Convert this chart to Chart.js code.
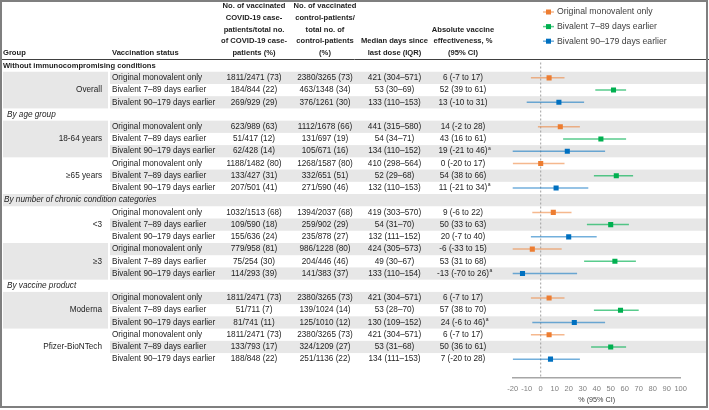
<!DOCTYPE html>
<html>
<head>
<meta charset="utf-8">
<script src="https://cdn.jsdelivr.net/npm/chart.js@4.4.1/dist/chart.umd.min.js"></script>
<style>
  html, body { margin: 0; padding: 0; background: #fff; }
  canvas { display: block; }
</style>
</head>
<body>
<canvas id="chart" width="709" height="410"></canvas>
<script>
// table content
const sections = ['Without immunocompromising conditions', 'By age group', 'By number of chronic condition categories', 'By vaccine product'];
const groups = ['Overall', '18-64 years', '≥65 years', '<3', '≥3', 'Moderna', 'Pfizer-BioNTech'];
const groupSection = [0, 1, 1, 2, 2, 3, 3];
const statuses = ['Original monovalent only', 'Bivalent 7–89 days earlier', 'Bivalent 90–179 days earlier'];

const cases = [
  '1811/2471 (73)', '184/844 (22)', '269/929 (29)',
  '623/989 (63)', '51/417 (12)', '62/428 (14)',
  '1188/1482 (80)', '133/427 (31)', '207/501 (41)',
  '1032/1513 (68)', '109/590 (18)', '155/636 (24)',
  '779/958 (81)', '75/254 (30)', '114/293 (39)',
  '1811/2471 (73)', '51/711 (7)', '81/741 (11)',
  '1811/2471 (73)', '133/793 (17)', '188/848 (22)'
];
const controls = [
  '2380/3265 (73)', '463/1348 (34)', '376/1261 (30)',
  '1112/1678 (66)', '131/697 (19)', '105/671 (16)',
  '1268/1587 (80)', '332/651 (51)', '271/590 (46)',
  '1394/2037 (68)', '259/902 (29)', '235/878 (27)',
  '986/1228 (80)', '204/446 (46)', '141/383 (37)',
  '2380/3265 (73)', '139/1024 (14)', '125/1010 (12)',
  '2380/3265 (73)', '324/1209 (27)', '251/1136 (22)'
];
const medianDays = [
  '421 (304–571)', '53 (30–69)', '133 (110–153)',
  '441 (315–580)', '54 (34–71)', '134 (110–152)',
  '410 (298–564)', '52 (29–68)', '132 (110–153)',
  '419 (303–570)', '54 (31–70)', '132 (111–152)',
  '424 (305–573)', '49 (30–67)', '133 (110–154)',
  '421 (304–571)', '53 (28–70)', '130 (109–152)',
  '421 (304–571)', '53 (31–68)', '134 (111–153)'
];
// vaccine effectiveness, %, with 95% CI
const ve     = [6, 52, 13, 14, 43, 19, 0, 54, 11, 9, 50, 20, -6, 53, -13, 6, 57, 24, 6, 50, 7];
const veLow  = [-7, 39, -10, -2, 16, -21, -20, 38, -21, -6, 33, -7, -33, 31, -70, -7, 38, -6, -7, 36, -20];
const veHigh = [17, 61, 31, 28, 61, 46, 17, 66, 34, 22, 63, 40, 15, 68, 26, 17, 70, 46, 17, 61, 28];
const footnoteRows = [5, 8, 14, 17];
const xTicks = [-20, 100, 10];

const F = '"Liberation Sans", Arial, sans-serif';
const colors = ['#ED7D31', '#00B050', '#0070C0'];
const lineColors = ['rgba(237,125,49,0.55)', 'rgba(0,176,80,0.65)', 'rgba(0,112,192,0.55)'];

// work out which plot row every line sits on
const rowOf = [], sectionRow = [], groupRow = [];
let r = 0, cur = -1;
groups.forEach((g, gi) => {
  if (groupSection[gi] !== cur) { cur = groupSection[gi]; sectionRow.push(r++); }
  groupRow.push(r);
  for (let s = 0; s < 3; s++) rowOf.push(r++);
});

const datasets = [];
statuses.forEach((label, s) => {
  const pts = [], ci = [];
  ve.forEach((v, i) => {
    if (i % 3 !== s) return;
    pts.push({ x: v, y: rowOf[i] });
    ci.push({ x: veLow[i], y: rowOf[i] }, { x: veHigh[i], y: rowOf[i] }, { x: null, y: null });
  });
  datasets.push({ type: 'line', label: label + ' CI', data: ci, borderColor: lineColors[s], borderWidth: 1.5,
    pointRadius: 0, spanGaps: false, order: 2 });
  datasets.push({ type: 'scatter', label: label, data: pts, backgroundColor: colors[s], borderColor: colors[s],
    pointStyle: 'rect', pointRadius: 3.6, borderWidth: 0, order: 1 });
});

const tablePlugin = {
  id: 'table',
  beforeDraw(chart) {
    const { ctx, chartArea: a, scales: { x, y } } = chart;
    const h = y.getPixelForValue(1) - y.getPixelForValue(0);
    const rowY = k => y.getPixelForValue(k);
    ctx.save();
    ctx.fillStyle = '#fff';
    ctx.fillRect(0, 0, chart.width, chart.height);

    // grey bands on odd rows
    ctx.fillStyle = '#E7E7E7';
    for (let k = 1; k < rowOf.length + sectionRow.length; k += 2) {
      if (sectionRow.includes(k)) ctx.fillRect(3, rowY(k) - h / 2, 703, h);
      else ctx.fillRect(110, rowY(k) - h / 2, 596, h);
    }
    groupRow.forEach(k => { if (k % 2 === 1) ctx.fillRect(3, rowY(k) - h / 2, 105, 3 * h); });

    // reference line at 0
    const zx = x.getPixelForValue(0);
    ctx.strokeStyle = '#A0A0A0';
    ctx.lineWidth = 1;
    ctx.setLineDash([2, 2]);
    ctx.beginPath();
    ctx.moveTo(zx, a.top + 3);
    ctx.lineTo(zx, a.bottom);
    ctx.stroke();
    ctx.setLineDash([]);

    // header
    ctx.fillStyle = '#1e1e1e';
    ctx.textBaseline = 'middle';
    ctx.font = 'bold 7.6px ' + F;
    const hy = k => 6 + 11.8 * k;
    ctx.textAlign = 'left';
    ctx.fillText('Group', 3, hy(4));
    ctx.fillText('Vaccination status', 112, hy(4));
    ctx.textAlign = 'center';
    ['No. of vaccinated', 'COVID-19 case-', 'patients/total no.', 'of COVID-19 case-', 'patients (%)']
      .forEach((t, k) => ctx.fillText(t, 254, hy(k)));
    ['No. of vaccinated', 'control-patients/', 'total no. of', 'control-patients', '(%)']
      .forEach((t, k) => ctx.fillText(t, 325, hy(k)));
    ['Median days since', 'last dose (IQR)'].forEach((t, k) => ctx.fillText(t, 394.5, hy(k + 3)));
    ['Absolute vaccine', 'effectiveness, %', '(95% CI)'].forEach((t, k) => ctx.fillText(t, 463, hy(k + 2)));

    // section titles
    ctx.textAlign = 'left';
    sections.forEach((t, i) => {
      ctx.font = (i === 0 ? 'bold 7.6px ' : 'italic 8.2px ') + F;
      ctx.fillText(t, i === 0 ? 3 : (i === 2 ? 4 : 7), rowY(sectionRow[i]));
    });

    // group labels
    ctx.font = '8.2px ' + F;
    ctx.textAlign = 'right';
    groups.forEach((g, i) => ctx.fillText(g, 102, rowY(groupRow[i] + 1)));

    // body
    rowOf.forEach((k, i) => {
      const py = rowY(k);
      ctx.font = '8.2px ' + F;
      ctx.textAlign = 'left';
      ctx.fillText(statuses[i % 3], 112, py);
      ctx.textAlign = 'center';
      ctx.fillText(cases[i], 254, py);
      ctx.fillText(controls[i], 325, py);
      ctx.fillText(medianDays[i], 394.5, py);
      const txt = ve[i] + ' (' + veLow[i] + ' to ' + veHigh[i] + ')';
      ctx.fillText(txt, 463, py);
      if (footnoteRows.includes(i)) {
        const w = ctx.measureText(txt).width;
        ctx.font = '5px ' + F;
        ctx.textAlign = 'left';
        ctx.fillText('a', 463 + w / 2 + 0.5, py - 3);
      }
    });
    ctx.restore();
  },
  afterDraw(chart) {
    const { ctx } = chart;
    ctx.save();
    // legend
    ctx.font = '8.7px ' + F;
    ctx.textBaseline = 'middle';
    ctx.textAlign = 'left';
    statuses.forEach((t, s) => {
      const ly = 12 + 14.6 * s;
      ctx.strokeStyle = lineColors[s];
      ctx.lineWidth = 1.5;
      ctx.beginPath();
      ctx.moveTo(543, ly);
      ctx.lineTo(554, ly);
      ctx.stroke();
      ctx.fillStyle = colors[s];
      ctx.fillRect(546, ly - 2.5, 5, 5);
      ctx.fillStyle = '#404040';
      ctx.fillText(t, 557, ly);
    });
    // header rule and frame
    ctx.strokeStyle = '#404040';
    ctx.lineWidth = 1;
    ctx.beginPath();
    ctx.moveTo(0, 59.5);
    ctx.lineTo(709, 59.5);
    ctx.stroke();
    ctx.strokeStyle = '#7F7F7F';
    ctx.lineWidth = 2;
    ctx.strokeRect(1, 1, 706, 406);
    ctx.restore();
  }
};

Chart.defaults.font.family = F;

new Chart(document.getElementById('chart'), {
  type: 'scatter',
  data: { datasets: datasets },
  options: {
    responsive: false,
    animation: false,
    layout: { padding: { left: 512.7, right: 28.3, top: 59.5, bottom: 0 } },
    scales: {
      x: {
        type: 'linear',
        min: xTicks[0],
        max: xTicks[1],
        ticks: { stepSize: xTicks[2], color: '#808080', font: { size: 7.5 }, padding: 6, maxRotation: 0, autoSkip: false },
        grid: { drawOnChartArea: false, drawTicks: false },
        border: { display: true, color: '#A6A6A6', width: 1.5 },
        title: { display: true, text: '% (95% CI)', color: '#404040', font: { size: 7.2 }, padding: { top: 0, bottom: 5.5 } },
        afterFit: s => { s.height = 32; }
      },
      y: { display: false, reverse: true, min: -0.5, max: 25.54 }
    },
    plugins: { legend: { display: false }, tooltip: { enabled: false } }
  },
  plugins: [tablePlugin]
});
</script>
</body>
</html>
